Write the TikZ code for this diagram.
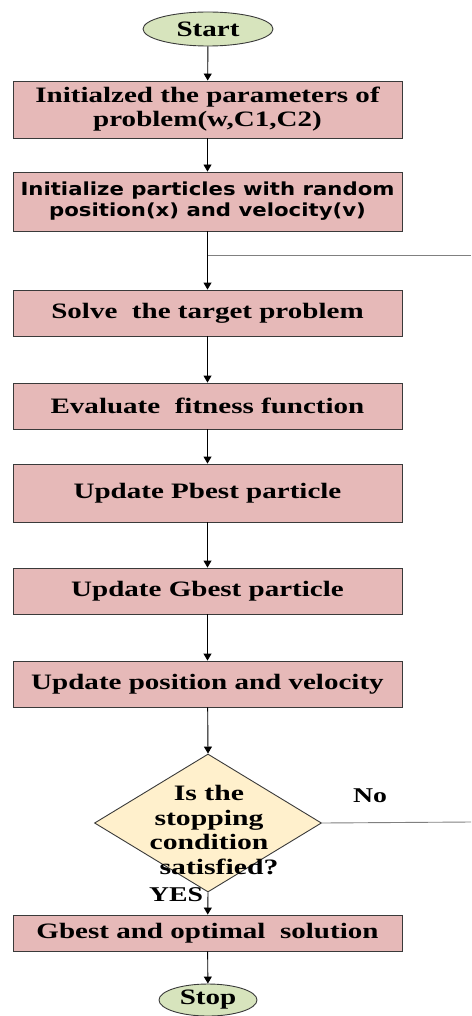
\documentclass[tikz,border=0pt]{standalone}
\usepackage{fontspec}
\setmainfont{Liberation Serif}
\newfontfamily\rmst{Liberation Serif}[FakeStretch=1.32]
\newfontfamily\rmdi{Liberation Serif}[FakeStretch=1.35]
\newfontfamily\ssst{DejaVu Sans}[FakeStretch=1.18]
\usetikzlibrary{shapes.geometric,arrows.meta}
\definecolor{boxfill}{HTML}{E6B9B8}
\definecolor{ovalfill}{HTML}{D7E4BD}
\definecolor{diafill}{HTML}{FFF0CC}
\definecolor{edge}{HTML}{3A3A3A}
\begin{document}
\begin{tikzpicture}[x=1pt,y=-1pt,
  proc/.style={rectangle,draw=edge,line width=0.9pt,fill=boxfill,minimum width=389pt,inner sep=0pt,align=center,font=\rmst\bfseries\fontsize{22}{24}\selectfont},
  term/.style={ellipse,draw=edge,line width=0.9pt,fill=ovalfill,inner sep=0pt,font=\rmst\bfseries\fontsize{22}{24}\selectfont},
  lbl/.style={font=\rmst\bfseries\fontsize{21}{24}\selectfont},
  arr/.style={-{Triangle[width=8pt,length=7pt]},line width=0.9pt,black},
  feed/.style={line width=0.9pt,gray}]
\useasboundingbox (0,0) rectangle (471,1016);
\node[term,minimum width=130pt,minimum height=34pt] (start) at (208,29) {Start};
\node[proc,minimum height=57pt] (b1) at (207.5,109.5) {Initialzed the parameters of\\problem(w,C1,C2)};
\node[proc,minimum height=59pt,font=\ssst\bfseries\fontsize{18}{21}\selectfont] (b2) at (207.5,201.5) {Initialize particles with random\\position(x) and velocity(v)};
\node[proc,minimum height=46pt] (b3) at (207.5,313) {Solve\ \ the target problem};
\node[proc,minimum height=46pt] (b4) at (207.5,406) {Evaluate\ \ fitness function};
\node[proc,minimum height=58pt] (b5) at (207.5,493) {Update Pbest particle};
\node[proc,minimum height=46pt] (b6) at (207.5,591) {Update Gbest particle};
\node[proc,minimum height=46pt] (b7) at (207.5,684) {Update position and velocity};
\node[diamond,draw=edge,line width=0.9pt,fill=diafill,minimum width=227pt,minimum height=138pt,inner sep=0pt] (dia) at (208,823) {};
\node[align=center,font=\rmdi\bfseries\fontsize{22}{24.5}\selectfont] (diat) at (209,830) {Is the\\stopping\\condition\\\hspace*{20pt}satisfied?};
\node[proc,minimum height=36pt] (b8) at (207.5,933) {Gbest and optimal\ \ solution};
\node[term,minimum width=98pt,minimum height=32pt] (stop) at (208,1000) {Stop};
\node[lbl] (no) at (370,796) {No};
\node[lbl] (yes) at (176,895) {YES};
\coordinate (br) at (208,255);
\coordinate (brR) at (471,255);
\coordinate (noR) at (471,822);
\draw[arr] (start) -- (b1);
\draw[arr] (b1) -- (b2);
\draw[arr] (b2) -- (b3);
\draw[feed] (br) -- (brR);
\draw[arr] (b3) -- (b4);
\draw[arr] (b4) -- (b5);
\draw[arr] (b5) -- (b6);
\draw[arr] (b6) -- (b7);
\draw[arr] (b7) -- (dia.north);
\draw[arr] (dia.south) -- (b8);
\draw[arr] (b8) -- (stop);
\draw[feed] (dia.east) -- (noR);
\end{tikzpicture}
\end{document}
